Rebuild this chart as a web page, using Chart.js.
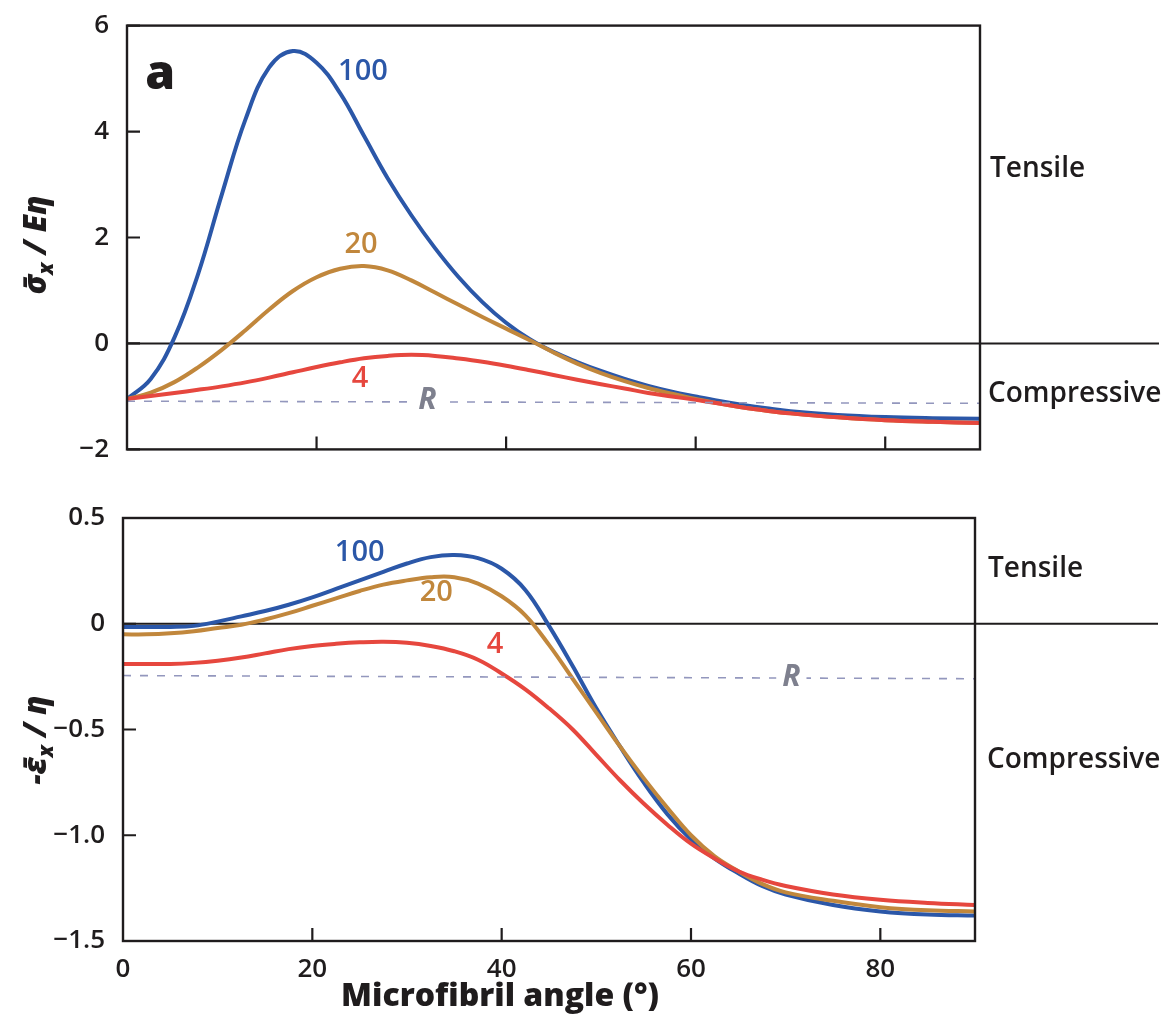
<!DOCTYPE html>
<html><head><meta charset="utf-8">
<script src="https://cdn.jsdelivr.net/npm/chart.js@4.4.1/dist/chart.umd.min.js"></script>
<style>
html,body{margin:0;padding:0;background:#fff;}
body{width:1168px;height:1036px;position:relative;overflow:hidden;}
#c1{position:absolute;left:0;top:0;}
#c2{position:absolute;left:0;top:475px;}
</style></head><body>
<canvas id="c1" width="1168" height="475"></canvas>
<canvas id="c2" width="1168" height="561"></canvas>
<script>
// ---- data ----
const angles = [0,2.5,5,7.5,10,12.5,15,17.5,20,22.5,25,27.5,30,32.5,35,37.5,40,42.5,45,47.5,50,52.5,55,57.5,60,62.5,65,67.5,70,75,80,85,90];
const xTicks = [0,20,40,60,80];
const seriesNames = ['100','20','4'];

// top panel: stress sigma_x / E eta
const stress100 = [-1.05,-0.67,0.11,1.31,2.81,4.23,5.21,5.52,5.3,4.72,3.92,3.12,2.42,1.8,1.25,0.78,0.39,0.08,-0.16,-0.35,-0.52,-0.67,-0.8,-0.91,-1.0,-1.085,-1.16,-1.225,-1.28,-1.35,-1.39,-1.41,-1.42];
const stress20  = [-1.05,-0.93,-0.73,-0.45,-0.12,0.25,0.64,0.99,1.25,1.41,1.46,1.38,1.19,0.96,0.73,0.5,0.28,0.06,-0.17,-0.38,-0.56,-0.71,-0.84,-0.95,-1.05,-1.135,-1.21,-1.27,-1.32,-1.395,-1.45,-1.48,-1.5];
const stress4   = [-1.05,-0.99,-0.935,-0.875,-0.81,-0.735,-0.645,-0.545,-0.445,-0.355,-0.28,-0.235,-0.215,-0.235,-0.285,-0.345,-0.42,-0.505,-0.595,-0.685,-0.77,-0.85,-0.935,-1.0,-1.065,-1.135,-1.21,-1.27,-1.32,-1.395,-1.45,-1.48,-1.5];
const rAngles = [0,90];
const stressR = [-1.09,-1.13];
const stressYTicks = [-2,0,2,4,6];

// bottom panel: strain -epsilon_x / eta
const strain100 = [-0.015,-0.015,-0.015,-0.01,0.01,0.035,0.06,0.09,0.125,0.165,0.205,0.245,0.285,0.315,0.325,0.31,0.26,0.16,-0.01,-0.2,-0.4,-0.58,-0.75,-0.9,-1.02,-1.11,-1.18,-1.24,-1.28,-1.33,-1.36,-1.375,-1.38];
const strain20  = [-0.05,-0.05,-0.045,-0.035,-0.02,-0.005,0.02,0.05,0.085,0.12,0.155,0.185,0.205,0.22,0.22,0.19,0.13,0.04,-0.1,-0.26,-0.42,-0.58,-0.73,-0.87,-1.0,-1.1,-1.17,-1.23,-1.27,-1.31,-1.34,-1.355,-1.36];
const strain4   = [-0.19,-0.19,-0.19,-0.185,-0.175,-0.16,-0.14,-0.12,-0.105,-0.095,-0.088,-0.085,-0.09,-0.105,-0.13,-0.17,-0.235,-0.31,-0.4,-0.5,-0.62,-0.74,-0.85,-0.95,-1.04,-1.11,-1.17,-1.21,-1.24,-1.28,-1.305,-1.32,-1.33];
const strainR = [-0.245,-0.26];
const strainYTicks = [-1.5,-1.0,-0.5,0,0.5];

// ---- styling ----
const BLUE='#2b57a8', ORANGE='#c1873c', RED='#e6473e', RCOL='#9397bd', INK='#1f1c1d', RTXT='#7e808e';
const FAM='"Open Sans", "DejaVu Sans", sans-serif';

function pts(xs, ys){ return xs.map((x,i)=>({x:x, y:ys[i]})); }
function curve(label, ys, color){
  return {label, data:pts(angles, ys), borderColor:color, borderWidth:4, pointRadius:0,
          tension:0.4, fill:false, borderCapStyle:'round', borderJoinStyle:'round'};
}
function refLine(ys){
  return {label:'R', data:pts(rAngles, ys), borderColor:RCOL, borderWidth:1.6, borderDash:[8,9],
          pointRadius:0, tension:0, fill:false};
}
function fmtMinus(s){ return String(s).replace('-', '\u2212'); }

const decoPlugin = {
  id:'deco',
  beforeDatasetsDraw(chart, args, o){
    const ctx=chart.ctx, ca=chart.chartArea, y=chart.scales.y;
    const y0=y.getPixelForValue(0);
    ctx.save(); ctx.strokeStyle=INK; ctx.lineWidth=2;
    ctx.beginPath(); ctx.moveTo(ca.left,y0); ctx.lineTo(o.zeroEnd,y0); ctx.stroke();
    ctx.restore();
  },
  afterDatasetsDraw(chart, args, o){
    const ctx=chart.ctx, ca=chart.chartArea, xs=chart.scales.x, ys=chart.scales.y;
    ctx.save();
    ctx.strokeStyle=INK; ctx.lineWidth=2.4;
    ctx.strokeRect(ca.left, ca.top, ca.right-ca.left, ca.bottom-ca.top);
    ctx.lineWidth=2.2;
    ctx.beginPath();
    xTicks.forEach(v=>{ if(v<=0) return; const px=xs.getPixelForValue(v); ctx.moveTo(px,ca.bottom); ctx.lineTo(px,ca.bottom-13); });
    o.yTicks.forEach(v=>{ const py=ys.getPixelForValue(v); ctx.moveTo(ca.left,py); ctx.lineTo(ca.left+13,py); });
    ctx.stroke();
    o.labels.forEach(l=>{
      const px=xs.getPixelForValue(l.x), py=ys.getPixelForValue(l.y);
      ctx.font=l.font; ctx.textAlign='center'; ctx.textBaseline='middle';
      if(l.bg){ const w=ctx.measureText(l.text).width+12; ctx.fillStyle='#fff'; ctx.fillRect(px-w/2,py-4,w,8); }
      ctx.fillStyle=l.color; ctx.fillText(l.text, px, py);
    });
    ctx.restore();
  },
  afterDraw(chart, args, o){
    const ctx=chart.ctx;
    ctx.save();
    ctx.fillStyle=INK; ctx.textAlign='left'; ctx.textBaseline='alphabetic';
    o.side.forEach(s=>{ ctx.font='600 28px '+FAM; ctx.fillText(s.text, s.px, s.py); });
    const t=o.ytitle;
    ctx.translate(t.bx, t.cy); ctx.rotate(-Math.PI/2);
    let total=0;
    t.parts.forEach(p=>{ ctx.font=p.f; total+=ctx.measureText(p.t).width; });
    let x=-total/2;
    t.parts.forEach(p=>{ ctx.font=p.f; ctx.fillStyle=INK; ctx.textAlign='left'; ctx.textBaseline='alphabetic';
      ctx.fillText(p.t, x, p.dy||0); x+=ctx.measureText(p.t).width; });
    ctx.restore();
    if(o.xtitle){
      ctx.save(); ctx.font=o.xtitle.f; ctx.fillStyle=INK; ctx.textAlign='center'; ctx.textBaseline='alphabetic';
      ctx.fillText(o.xtitle.text, o.xtitle.cx, o.xtitle.by); ctx.restore();
    }
  }
};

function makeChart(id, cfg){
  return new Chart(document.getElementById(id), {
    type:'line',
    data:{datasets:[refLine(cfg.r), curve(seriesNames[2], cfg.s4, RED), curve(seriesNames[1], cfg.s20, ORANGE), curve(seriesNames[0], cfg.s100, BLUE)]},
    options:{
      responsive:false, animation:false, devicePixelRatio:1,
      layout:{padding:{left:0, right:cfg.padRight, top:cfg.padTop, bottom:0}},
      plugins:{legend:{display:false}, tooltip:{enabled:false}, deco:cfg.deco},
      scales:{
        x:{type:'linear', min:0, max:90,
           afterBuildTicks:s=>{ s.ticks=xTicks.map(v=>({value:v})); },
           afterFit:s=>{ s.height=cfg.xH; },
           grid:{display:false}, border:{display:false},
           ticks:{display:cfg.showX, padding:5, color:INK, font:{family:FAM, size:26, weight:600}}},
        y:{type:'linear', min:cfg.yMin, max:cfg.yMax,
           afterBuildTicks:s=>{ s.ticks=cfg.yTicks.map(v=>({value:v})); },
           afterFit:s=>{ s.width=cfg.yW; },
           grid:{display:false}, border:{display:false},
           ticks:{padding:10, color:INK, font:{family:FAM, size:26, weight:600}, callback:cfg.fmt}}
      }
    },
    plugins:[decoPlugin]
  });
}

const TIT='italic 800 31px '+FAM, SUB='italic 800 21px '+FAM;

makeChart('c1', {
  s100:stress100, s20:stress20, s4:stress4, r:stressR,
  yMin:-2, yMax:6, yTicks:stressYTicks, showX:false,
  padTop:20, padRight:188, yW:127, xH:25,
  fmt:v=>fmtMinus(v),
  deco:{
    zeroEnd:1159, yTicks:stressYTicks,
    labels:[
      {text:'a', x:3.5, y:5.06, color:INK, font:'800 48px '+FAM},
      {text:seriesNames[0], x:24.9, y:5.13, color:BLUE, font:'600 29px '+FAM},
      {text:seriesNames[1], x:24.7, y:1.86, color:ORANGE, font:'600 29px '+FAM},
      {text:seriesNames[2], x:24.6, y:-0.67, color:RED, font:'600 29px '+FAM},
      {text:'R', x:31.7, y:-1.07, color:RTXT, font:'italic bold 30px '+FAM, bg:true}
    ],
    side:[{text:'Tensile', px:990, py:177},{text:'Compressive', px:988, py:402}],
    ytitle:{bx:46, cy:245, parts:[{t:'\u03C3\u0304', f:TIT},{t:'x', f:SUB, dy:7},{t:' / E\u03B7', f:TIT}]}
  }
});

makeChart('c2', {
  s100:strain100, s20:strain20, s4:strain4, r:strainR,
  yMin:-1.5, yMax:0.5, yTicks:strainYTicks, showX:true,
  padTop:43, padRight:193, yW:123, xH:95,
  fmt:v=>fmtMinus(v===0?'0':Number(v).toFixed(1)),
  deco:{
    zeroEnd:1158, yTicks:strainYTicks,
    labels:[
      {text:seriesNames[0], x:25.0, y:0.336, color:BLUE, font:'600 29px '+FAM},
      {text:seriesNames[1], x:33.1, y:0.147, color:ORANGE, font:'600 29px '+FAM},
      {text:seriesNames[2], x:39.3, y:-0.10, color:RED, font:'600 29px '+FAM},
      {text:'R', x:70.6, y:-0.252, color:RTXT, font:'italic bold 30px '+FAM, bg:true}
    ],
    side:[{text:'Tensile', px:988, py:102},{text:'Compressive', px:987, py:293}],
    ytitle:{bx:46, cy:265, parts:[{t:'-\u03B5\u0304', f:TIT},{t:'x', f:SUB, dy:7},{t:' / \u03B7', f:TIT}]},
    xtitle:{text:'Microfibril angle (\u00B0)', f:'800 32px '+FAM, cx:500, by:531}
  }
});
</script>
</body></html>
